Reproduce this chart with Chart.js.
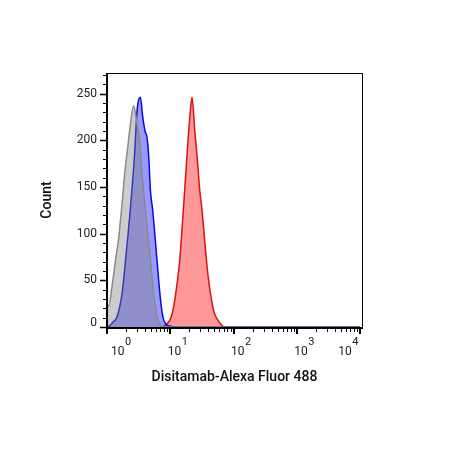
<!DOCTYPE html>
<html>
<head>
<meta charset="utf-8">
<script src="https://cdn.jsdelivr.net/npm/chart.js@4.4.1/dist/chart.umd.min.js"></script>
<style>
  html, body { margin: 0; padding: 0; background: #fff; }
  #wrap { width: 450px; height: 449px; }
</style>
</head>
<body>
<div id="wrap"><canvas id="histo" width="450" height="449"></canvas></div>
<script>
// fluorescence (x) and cell count (y)
var grayX     = [1.00, 1.06, 1.20, 1.36, 1.53, 1.62, 1.71, 1.91, 2.19, 2.34, 2.64, 2.92, 2.99, 3.29, 3.58, 4.06, 4.41, 4.86, 5.48, 6.18, 7.00, 8.18, 10000];
var grayCount = [25,   22,   43,   71,   95,   112,  128,  165,  200,  217,  237,  222,  217,  200,  164,  125,  100,  71,   36,   11,   2,    0,    0];

var blueX     = [1.00, 1.13, 1.23, 1.44, 1.73, 1.96, 2.33, 2.71, 2.99, 3.38, 3.67, 4.06, 4.25, 4.57, 4.86, 5.28, 6.18, 7.00, 7.69, 8.6, 9.8, 14.1, 10000];
var blueCount = [0,    2,    5,    11,   36,   71,   125,  182,  232,  246,  225,  208,  205,  182,  146,  125,  71,   30,   10,   3,   1,   0,    0];

var redX      = [7.69, 9.82, 10.8, 11.8, 12.9, 14.1, 16.1, 17.6, 19.1, 20.7, 22.1, 24.4, 26.6, 29.3, 31.8, 37.4, 40.7, 44.9, 49.7, 57.0, 64.6, 72.8, 10000];
var redCount  = [0,    7,    15,   29,   48,   71,   125,  164,  200,  230,  246,  210,  182,  146,  125,  71,   48,   29,   15,   7,    2,    0,    0];

var yMajor = [0, 50, 100, 150, 200, 250];
var xDecades = [0, 1, 2, 3, 4];

function pts(xs, ys) {
    return xs.map(function (v, i) { return { x: v, y: ys[i] }; });
}

var axesPlugin = {
    id: 'axes',
    afterDraw: function (chart) {
        var ctx = chart.ctx;
        var a = chart.chartArea;
        var xs = chart.scales.x;
        var ys = chart.scales.y;
        ctx.save();
        ctx.strokeStyle = '#000';

        // thin top / right frame
        ctx.lineWidth = 1;
        ctx.beginPath();
        ctx.moveTo(a.left, a.top + 0.5);
        ctx.lineTo(a.right + 0.5, a.top + 0.5);
        ctx.lineTo(a.right + 0.5, a.bottom);
        ctx.stroke();

        // left and bottom axis
        ctx.lineWidth = 2;
        ctx.beginPath();
        ctx.moveTo(a.left, a.top);
        ctx.lineTo(a.left, a.bottom + 1);
        ctx.lineTo(a.right + 1, a.bottom + 1);
        ctx.stroke();

        // y ticks
        for (var v = 0; v <= 270; v += 10) {
            var py = Math.round(ys.getPixelForValue(v)) + 0.5;
            var major = yMajor.indexOf(v) >= 0;
            ctx.lineWidth = major ? 1.5 : 1;
            ctx.beginPath();
            ctx.moveTo(a.left - (major ? 7 : 4), py);
            ctx.lineTo(a.left, py);
            ctx.stroke();
        }
        ctx.fillStyle = '#222';
        ctx.font = '12px Roboto';
        ctx.textAlign = 'right';
        ctx.textBaseline = 'middle';
        yMajor.forEach(function (v) {
            var py = ys.getPixelForValue(v);
            if (v === 0) py -= 4;
            ctx.fillText(String(v), 97, py);
        });

        // x ticks
        xDecades.forEach(function (n) {
            var base = Math.pow(10, n);
            var px = Math.round(xs.getPixelForValue(base));
            ctx.lineWidth = 2;
            ctx.beginPath();
            ctx.moveTo(px, a.bottom);
            ctx.lineTo(px, a.bottom + 7);
            ctx.stroke();
            if (n < 4) {
                ctx.lineWidth = 1;
                for (var m = 2; m <= 9; m++) {
                    var mx = Math.round(xs.getPixelForValue(m * base)) + 0.5;
                    ctx.beginPath();
                    ctx.moveTo(mx, a.bottom);
                    ctx.lineTo(mx, a.bottom + 5);
                    ctx.stroke();
                }
            }
        });

        // x labels 10^n
        ctx.textAlign = 'left';
        ctx.textBaseline = 'alphabetic';
        xDecades.forEach(function (n) {
            var px = xs.getPixelForValue(Math.pow(10, n));
            ctx.font = '12px Roboto';
            var wBase = ctx.measureText('10').width;
            ctx.font = '11px Roboto';
            var wExp = ctx.measureText(String(n)).width;
            var left;
            if (n === 0) left = px + 4;
            else if (n === 4) left = px - 2 - wBase - wExp;
            else left = px - 2.5;
            ctx.font = '12px Roboto';
            ctx.fillText('10', left, 355);
            ctx.font = '11px Roboto';
            ctx.fillText(String(n), left + wBase + 0.5, 345);
        });

        // titles
        ctx.fillStyle = '#111';
        ctx.font = '500 14px Roboto';
        ctx.textAlign = 'center';
        ctx.textBaseline = 'middle';
        ctx.fillText('Disitamab-Alexa Fluor 488', (a.left + a.right) / 2, 377);
        ctx.save();
        ctx.translate(47.5, (a.top + a.bottom) / 2);
        ctx.rotate(-Math.PI / 2);
        ctx.fillText('Count', 0, 0);
        ctx.restore();

        ctx.restore();
    }
};

new Chart(document.getElementById('histo'), {
    type: 'line',
    data: {
        datasets: [
            {
                label: 'Isotype',
                data: pts(grayX, grayCount),
                borderColor: '#8a8a8a',
                backgroundColor: 'rgba(128,128,128,0.4)',
                borderWidth: 1.5,
                fill: 'origin'
            },
            {
                label: 'Cells',
                data: pts(blueX, blueCount),
                borderColor: '#0a0ad6',
                backgroundColor: 'rgba(0,0,255,0.4)',
                borderWidth: 1.5,
                fill: 'origin'
            },
            {
                label: 'Disitamab',
                data: pts(redX, redCount),
                borderColor: '#dc1010',
                backgroundColor: 'rgba(255,0,0,0.4)',
                borderWidth: 1.5,
                fill: 'origin'
            }
        ]
    },
    options: {
        responsive: false,
        animation: false,
        layout: { padding: { left: 107, right: 88, top: 73, bottom: 122 } },
        elements: {
            point: { radius: 0 },
            line: { cubicInterpolationMode: 'monotone' }
        },
        scales: {
            x: { type: 'logarithmic', min: 1, max: Math.pow(10, 4.0316), display: false },
            y: { type: 'linear', min: 0, max: 272, display: false }
        },
        plugins: {
            legend: { display: false },
            tooltip: { enabled: false }
        }
    },
    plugins: [axesPlugin]
});
</script>
</body>
</html>
